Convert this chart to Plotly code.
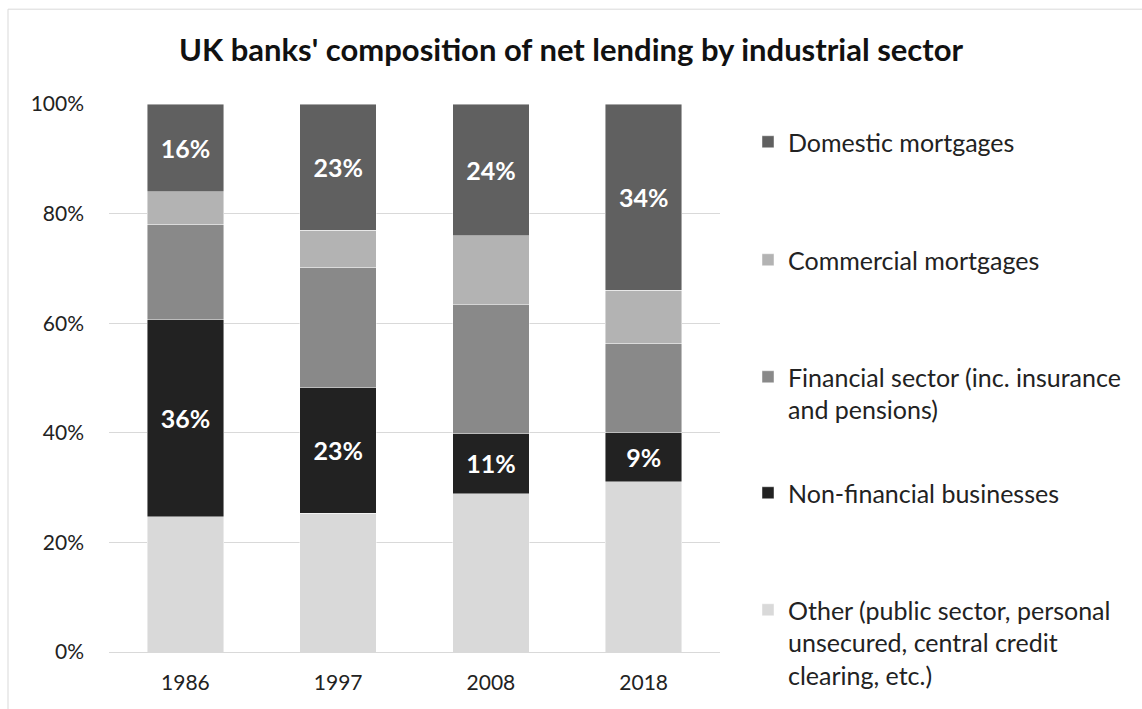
import plotly.graph_objects as go

# Years on the category axis
years = ["1986", "1997", "2008", "2018"]

# Share of net lending (%) by sector, stacked bottom to top
other = [24.7, 25.3, 28.9, 31.1]
non_financial = [36, 23, 11, 9]
financial = [17.4, 21.9, 23.5, 16.2]
commercial = [5.9, 6.8, 12.6, 9.7]
domestic = [16, 23, 24, 34]

series_names = [
    "Other (public sector, personal<br>unsecured, central credit<br>clearing, etc.)",
    "Non-financial businesses",
    "Financial sector (inc. insurance<br>and pensions)",
    "Commercial mortgages",
    "Domestic mortgages",
]
series_values = [other, non_financial, financial, commercial, domestic]
series_colors = ["#d9d9d9", "#222222", "#898989", "#b3b3b3", "#606060"]
labelled = [False, True, False, False, True]

FONT = "Lato"
W, H = 1142, 709
L, R, T, B = 109, 422, 104, 56
plot_h = H - T - B

# one legend box per series, so each entry sits at its own row
legend_rows = [610, 493, 377, 260, 142]
legend_ids = ["legend5", "legend4", "legend3", "legend2", "legend"]

fig = go.Figure()
for name, vals, col, lab, lid in zip(series_names, series_values, series_colors, labelled, legend_ids):
    fig.add_trace(go.Bar(
        x=years, y=vals, name=name,
        marker=dict(color=col, line=dict(color="rgba(255,255,255,0.6)", width=0.75)),
        text=[f"{v:.0f}%" for v in vals] if lab else None,
        textposition="inside" if lab else "none",
        insidetextanchor="middle",
        textfont=dict(family=FONT, size=25, color="white", weight="bold"),
        hoverinfo="x+y+name",
        legend=lid,
        showlegend=True,
    ))

legend_layout = {}
for lid, row in zip(legend_ids, legend_rows):
    legend_layout[lid] = dict(
        x=(748 - L) / (W - L - R), xanchor="left",
        y=(H - B - (row - 23)) / plot_h, yanchor="top",
        valign="top",
        font=dict(family=FONT, size=25, color="#222222"),
        bgcolor="rgba(0,0,0,0)",
        visible=True,
    )

fig.update_layout(
    width=W, height=H,
    margin=dict(l=L, r=R, t=T, b=B),
    barmode="stack",
    bargap=0.5,
    showlegend=True,
    plot_bgcolor="white",
    paper_bgcolor="white",
    title=dict(
        text="<b>UK banks' composition of net lending by industrial sector</b>",
        font=dict(family=FONT, size=31, color="#111111"),
        x=0.5, xref="container", xanchor="center",
        y=1 - 50 / H, yref="container", yanchor="middle",
    ),
    xaxis=dict(
        tickfont=dict(family=FONT, size=21, color="#222222"),
        showgrid=False, showline=False, ticks="",
        ticklabelstandoff=16,
    ),
    yaxis=dict(
        range=[0, 100], dtick=20, ticksuffix="%",
        tickfont=dict(family=FONT, size=21, color="#222222"),
        showgrid=True, gridcolor="#d9d9d9", gridwidth=1,
        zeroline=True, zerolinecolor="#d9d9d9", zerolinewidth=1,
        showline=False, ticks="",
        ticklabelstandoff=24,
    ),
    shapes=[dict(
        type="rect", xref="paper", yref="paper",
        x0=(8 - L) / (W - L - R), x1=(1160 - L) / (W - L - R),
        y0=(H - B - 730) / plot_h, y1=(H - B - 9) / plot_h,
        line=dict(color="#d9d9d9", width=1), layer="below",
    )],
    **legend_layout,
)

fig.write_html("out.html")
